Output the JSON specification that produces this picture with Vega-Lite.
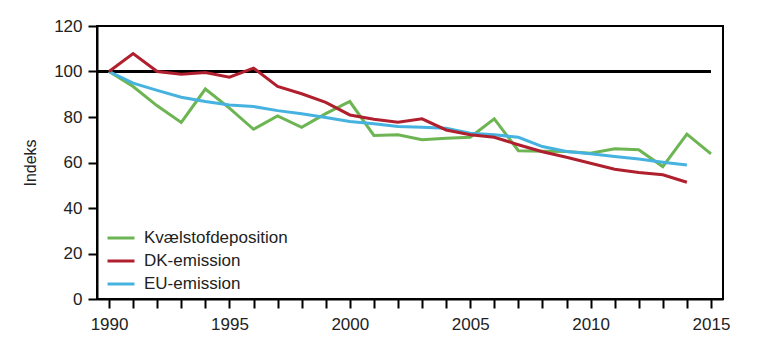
{
  "$schema": "https://vega.github.io/schema/vega-lite/v6.json",
  "width": 626,
  "height": 273,
  "autosize": {"type": "none"},
  "padding": {"left": 97, "top": 26, "right": 45, "bottom": 46},
  "background": "white",
  "config": {
    "font": "Liberation Sans",
    "view": {"stroke": "#000000", "strokeWidth": 2},
    "axis": {"grid": false, "domainColor": "#000000", "domainWidth": 2, "tickColor": "#000000", "tickWidth": 2, "labelColor": "#222222", "titleColor": "#222222", "labelFont": "Liberation Sans", "titleFont": "Liberation Sans", "labelFontSize": 17, "titleFontSize": 16}
  },
  "datasets": {
    "series": [
      {"year": 1990, "series": "Kvælstofdeposition", "value": 100},
      {"year": 1991, "series": "Kvælstofdeposition", "value": 93.4},
      {"year": 1992, "series": "Kvælstofdeposition", "value": 84.9},
      {"year": 1993, "series": "Kvælstofdeposition", "value": 77.6},
      {"year": 1994, "series": "Kvælstofdeposition", "value": 92.3},
      {"year": 1995, "series": "Kvælstofdeposition", "value": 83.9},
      {"year": 1996, "series": "Kvælstofdeposition", "value": 74.6},
      {"year": 1997, "series": "Kvælstofdeposition", "value": 80.5},
      {"year": 1998, "series": "Kvælstofdeposition", "value": 75.5},
      {"year": 1999, "series": "Kvælstofdeposition", "value": 81.5},
      {"year": 2000, "series": "Kvælstofdeposition", "value": 86.8},
      {"year": 2001, "series": "Kvælstofdeposition", "value": 71.9},
      {"year": 2002, "series": "Kvælstofdeposition", "value": 72.2},
      {"year": 2003, "series": "Kvælstofdeposition", "value": 70.0},
      {"year": 2004, "series": "Kvælstofdeposition", "value": 70.7},
      {"year": 2005, "series": "Kvælstofdeposition", "value": 71.1},
      {"year": 2006, "series": "Kvælstofdeposition", "value": 79.2},
      {"year": 2007, "series": "Kvælstofdeposition", "value": 65.2},
      {"year": 2008, "series": "Kvælstofdeposition", "value": 64.9},
      {"year": 2009, "series": "Kvælstofdeposition", "value": 64.8},
      {"year": 2010, "series": "Kvælstofdeposition", "value": 64.1},
      {"year": 2011, "series": "Kvælstofdeposition", "value": 66.0},
      {"year": 2012, "series": "Kvælstofdeposition", "value": 65.6},
      {"year": 2013, "series": "Kvælstofdeposition", "value": 58.2},
      {"year": 2014, "series": "Kvælstofdeposition", "value": 72.5},
      {"year": 2015, "series": "Kvælstofdeposition", "value": 63.8},
      {"year": 1990, "series": "EU-emission", "value": 100},
      {"year": 1991, "series": "EU-emission", "value": 94.9},
      {"year": 1992, "series": "EU-emission", "value": 91.7},
      {"year": 1993, "series": "EU-emission", "value": 88.7},
      {"year": 1994, "series": "EU-emission", "value": 86.8},
      {"year": 1995, "series": "EU-emission", "value": 85.3},
      {"year": 1996, "series": "EU-emission", "value": 84.6},
      {"year": 1997, "series": "EU-emission", "value": 82.8},
      {"year": 1998, "series": "EU-emission", "value": 81.4},
      {"year": 1999, "series": "EU-emission", "value": 79.8},
      {"year": 2000, "series": "EU-emission", "value": 78.0},
      {"year": 2001, "series": "EU-emission", "value": 77.0},
      {"year": 2002, "series": "EU-emission", "value": 75.8},
      {"year": 2003, "series": "EU-emission", "value": 75.5},
      {"year": 2004, "series": "EU-emission", "value": 75.1},
      {"year": 2005, "series": "EU-emission", "value": 72.9},
      {"year": 2006, "series": "EU-emission", "value": 72.2},
      {"year": 2007, "series": "EU-emission", "value": 71.1},
      {"year": 2008, "series": "EU-emission", "value": 67.0},
      {"year": 2009, "series": "EU-emission", "value": 64.8},
      {"year": 2010, "series": "EU-emission", "value": 63.8},
      {"year": 2011, "series": "EU-emission", "value": 62.6},
      {"year": 2012, "series": "EU-emission", "value": 61.5},
      {"year": 2013, "series": "EU-emission", "value": 60.1},
      {"year": 2014, "series": "EU-emission", "value": 58.9},
      {"year": 1990, "series": "DK-emission", "value": 100},
      {"year": 1991, "series": "DK-emission", "value": 107.9},
      {"year": 1992, "series": "DK-emission", "value": 100},
      {"year": 1993, "series": "DK-emission", "value": 98.8},
      {"year": 1994, "series": "DK-emission", "value": 99.6},
      {"year": 1995, "series": "DK-emission", "value": 97.5},
      {"year": 1996, "series": "DK-emission", "value": 101.5},
      {"year": 1997, "series": "DK-emission", "value": 93.4},
      {"year": 1998, "series": "DK-emission", "value": 90.2},
      {"year": 1999, "series": "DK-emission", "value": 86.4},
      {"year": 2000, "series": "DK-emission", "value": 80.9},
      {"year": 2001, "series": "DK-emission", "value": 79.0},
      {"year": 2002, "series": "DK-emission", "value": 77.7},
      {"year": 2003, "series": "DK-emission", "value": 79.2},
      {"year": 2004, "series": "DK-emission", "value": 74.3},
      {"year": 2005, "series": "DK-emission", "value": 72.2},
      {"year": 2006, "series": "DK-emission", "value": 71.1},
      {"year": 2007, "series": "DK-emission", "value": 67.8},
      {"year": 2008, "series": "DK-emission", "value": 64.7},
      {"year": 2009, "series": "DK-emission", "value": 62.3},
      {"year": 2010, "series": "DK-emission", "value": 59.7},
      {"year": 2011, "series": "DK-emission", "value": 57.0},
      {"year": 2012, "series": "DK-emission", "value": 55.6},
      {"year": 2013, "series": "DK-emission", "value": 54.6},
      {"year": 2014, "series": "DK-emission", "value": 51.3}
    ],
    "ref": [
      {"start": 1989.5, "end": 2015, "value": 100}
    ]
  },
  "encoding": {
    "x": {
      "type": "quantitative",
      "scale": {"domain": [1989.5, 2015.5], "nice": false, "zero": false},
      "axis": {
        "title": null,
        "values": [1990,1991,1992,1993,1994,1995,1996,1997,1998,1999,2000,2001,2002,2003,2004,2005,2006,2007,2008,2009,2010,2011,2012,2013,2014,2015],
        "labelExpr": "datum.value % 5 === 0 ? datum.value : ''",
        "labelFontSize": 17,
        "tickSize": 9,
        "labelPadding": 8,
        "labelFlush": false,
        "labelOverlap": false,
        "labelBound": false
      }
    },
    "y": {
      "field": "value", "type": "quantitative",
      "scale": {"domain": [0, 120], "nice": false},
      "axis": {
        "title": "Indeks",
        "values": [0, 20, 40, 60, 80, 100, 120],
        "labelFontSize": 17,
        "titleFontSize": 16,
        "titleFontWeight": "normal",
        "tickSize": 9,
        "labelPadding": 6,
        "titlePadding": 15
      }
    }
  },
  "layer": [
    {
      "data": {"name": "ref"},
      "mark": {"type": "rule", "color": "#000000", "strokeWidth": 3},
      "encoding": {
        "x": {"field": "start", "type": "quantitative"},
        "x2": {"field": "end"}
      }
    },
    {
      "data": {"name": "series"},
      "mark": {"type": "line", "strokeWidth": 3, "strokeJoin": "miter"},
      "encoding": {
        "x": {"field": "year", "type": "quantitative"},
        "color": {
          "field": "series", "type": "nominal",
          "scale": {"domain": ["Kvælstofdeposition", "DK-emission", "EU-emission"], "range": ["#6db552", "#b01f2e", "#45b2df"]},
          "legend": {
            "title": null,
            "orient": "none",
            "legendX": 9,
            "legendY": 197,
            "symbolType": "stroke",
            "symbolSize": 729,
            "symbolStrokeWidth": 3,
            "labelFontSize": 17,
            "labelColor": "#222222",
            "labelOffset": 8,
            "rowPadding": 0
          }
        },
        "order": {"field": "year", "type": "quantitative"}
      }
    }
  ]
}
